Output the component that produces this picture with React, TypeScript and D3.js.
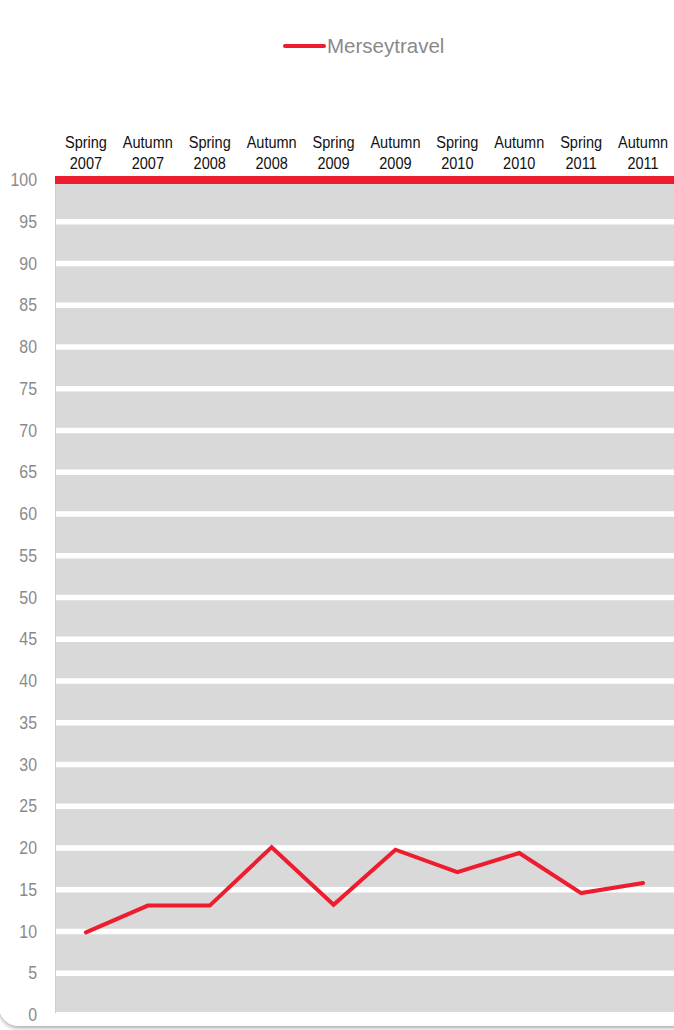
import React from "react";
import * as d3 from "d3";

const categories = [
  "Spring 2007", "Autumn 2007", "Spring 2008", "Autumn 2008", "Spring 2009",
  "Autumn 2009", "Spring 2010", "Autumn 2010", "Spring 2011", "Autumn 2011",
];
const merseytravel = [9.9, 13.1, 13.1, 20.1, 13.2, 19.8, 17.1, 19.4, 14.6, 15.8];
const yTicks = [0, 5, 10, 15, 20, 25, 30, 35, 40, 45, 50, 55, 60, 65, 70, 75, 80, 85, 90, 95, 100];
const seriesName = "Merseytravel";

const W = 674;
const H = 1030;
const left = 55;
const right = 674;
const top = 180;
const bottom = 1015;
const RED = "#ed1c2e";
const FONT = "'Liberation Sans', Arial, Helvetica, sans-serif";

export default function App() {
  const x = d3.scaleBand<string>().domain(categories).range([left, right]).padding(0);
  const y = d3.scaleLinear().domain([0, 100]).range([bottom, top]);
  const cx = (c: string) => (x(c) as number) + x.bandwidth() / 2;
  const line = d3
    .line<number>()
    .x((_, i) => cx(categories[i]))
    .y((d) => y(d));

  return (
    <svg
      width={W}
      height={H}
      style={{ position: "absolute", left: 0, top: 0, background: "#fff" }}
      fontFamily={FONT}
    >
      <defs>
        <filter id="sh" x="-5%" y="-5%" width="110%" height="110%">
          <feDropShadow dx="0" dy="2" stdDeviation="2" floodColor="#000" floodOpacity="0.35" />
        </filter>
        <clipPath id="plotclip">
          <rect x={left} y={0} width={right - left} height={1012} />
        </clipPath>
      </defs>
      <rect x={-1} y={-40} width={700} height={1066} rx={20} fill="#fff" filter="url(#sh)" />

      {/* legend */}
      <line x1={285} x2={324} y1={46} y2={46} stroke={RED} strokeWidth={4} strokeLinecap="round" />
      <text x={327} y={53} fontSize={20.5} fill="#8a8a8a">{seriesName}</text>

      {/* plot background */}
      <g clipPath="url(#plotclip)">
        <rect x={left} y={y(100)} width={right - left} height={y(0) - y(100)} fill="#d9d9d9" />
        {yTicks.filter((t) => t < 100).map((t) => (
          <line key={t} x1={left} x2={right} y1={y(t)} y2={y(t)} stroke="#fff" strokeWidth={5.5} />
        ))}
      </g>
      <line x1={left} x2={right} y1={y(100)} y2={y(100)} stroke={RED} strokeWidth={8} />
      <line x1={left + 0.5} x2={left + 0.5} y1={y(100) + 4} y2={1013} stroke="#cfcfcf" strokeWidth={1} />

      {/* y labels */}
      {yTicks.map((t) => (
        <text
          key={t}
          transform={`translate(37,${y(t) + 6}) scale(0.86,1)`}
          textAnchor="end"
          fontSize={18.5}
          fill="#8a8a8a"
        >
          {t}
        </text>
      ))}

      {/* category labels */}
      {categories.map((c) => {
        const [a, b] = c.split(" ");
        return (
          <g key={c}>
            <text transform={`translate(${cx(c)},148) scale(0.88,1)`} textAnchor="middle" fontSize={16.5} fill="#111">
              {a}
            </text>
            <text transform={`translate(${cx(c)},169) scale(0.88,1)`} textAnchor="middle" fontSize={16.5} fill="#111">
              {b}
            </text>
          </g>
        );
      })}

      {/* series */}
      <path
        d={line(merseytravel) as string}
        fill="none"
        stroke={RED}
        strokeWidth={4}
        strokeLinejoin="miter"
        strokeLinecap="round"
      />
    </svg>
  );
}
